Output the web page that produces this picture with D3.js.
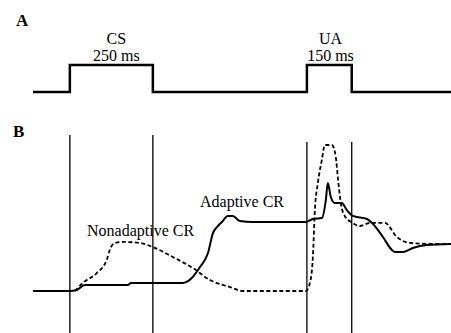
<!DOCTYPE html>
<html>
<head>
<meta charset="utf-8">
<script src="https://cdn.jsdelivr.net/npm/d3@7"></script>
<style>
  body { margin: 0; background: #fff; }
  svg text { font-family: "Liberation Serif", "Times New Roman", serif; fill: #000; }
</style>
</head>
<body>
<svg id="chart" width="451" height="333"></svg>
<script>
  // time in ms (CS onset = 0), amplitude in arbitrary units
  var stimulus = [
    { t: -111, v: 0 }, { t: 0, v: 1 }, { t: 250, v: 0 },
    { t: 714, v: 1 }, { t: 849, v: 0 }, { t: 1148, v: 0 }
  ];
  var stimLabels = [
    { name: 'CS', dur: '250 ms', t: 140 },
    { name: 'UA', dur: '150 ms', t: 785 }
  ];
  var markers = [0, 250, 714, 849];

  var adaptiveT = [-111, 0, 21, 45, 175, 184, 340, 352, 370, 392, 416, 431, 443, 458, 476, 491, 512, 551, 711, 732, 759, 771, 777, 786, 798, 819, 834, 852, 895, 913, 943, 970, 979, 1003, 1033, 1075, 1148];
  var adaptiveA = [0, 0, 0.7, 4.1, 4.1, 5.5, 5.5, 6.2, 9.6, 16.4, 26, 39.7, 43.8, 47.3, 51.4, 51.4, 47.9, 47.3, 47.3, 49.3, 50, 62.3, 74, 64.4, 60.3, 60.3, 55.5, 51.4, 49.3, 45.9, 37, 28.1, 26.7, 26.7, 29.5, 31.5, 32.2];

  var nonadaptiveT = [15, 39, 81, 111, 120, 136, 160, 211, 250, 310, 370, 422, 482, 521, 711, 723, 732, 738, 747, 759, 768, 789, 801, 807, 816, 828, 852, 873, 904, 949, 985, 1024, 1093, 1148];
  var nonadaptiveA = [0, 5.5, 12.3, 21.2, 28.1, 32.9, 33.6, 32.9, 30.1, 23.3, 15.8, 7.5, 2.7, 0, 0, 5.5, 23.3, 55.5, 74, 89.7, 100, 100, 91.8, 78.1, 60.3, 51.4, 46.6, 44.5, 46.6, 46.6, 37, 32.9, 32.2, 32.2];

  var svg = d3.select('#chart');

  var x = d3.scaleLinear().domain([-111, 1148]).range([33, 451]);
  var yStim = d3.scaleLinear().domain([0, 1]).range([92, 65]);
  var y = d3.scaleLinear().domain([0, 100]).range([291, 145]);

  // panel letters
  svg.append('text').attr('x', 16).attr('y', 26)
    .style('font-size', '17px').style('font-weight', 'bold').text('A');
  svg.append('text').attr('x', 13).attr('y', 137)
    .style('font-size', '17px').style('font-weight', 'bold').text('B');

  // panel A: stimulus trace
  var stimLine = d3.line()
    .x(function (d) { return x(d.t); })
    .y(function (d) { return yStim(d.v); })
    .curve(d3.curveStepAfter);

  svg.append('path')
    .datum(stimulus)
    .attr('d', stimLine)
    .attr('fill', 'none')
    .attr('stroke', '#000')
    .attr('stroke-width', 2.5);

  stimLabels.forEach(function (s) {
    svg.append('text').attr('x', x(s.t)).attr('y', 44)
      .style('text-anchor', 'middle').style('font-size', '16px').text(s.name);
    svg.append('text').attr('x', x(s.t)).attr('y', 61)
      .style('text-anchor', 'middle').style('font-size', '16px').text(s.dur);
  });

  // panel B: markers
  markers.forEach(function (t, i) {
    svg.append('line')
      .attr('x1', x(t)).attr('x2', x(t))
      .attr('y1', i < 2 ? 135 : 142).attr('y2', 333)
      .attr('stroke', '#000').attr('stroke-width', 1.3);
  });

  var line = d3.line()
    .x(function (d) { return x(d[0]); })
    .y(function (d) { return y(d[1]); })
    .curve(d3.curveMonotoneX);

  var nonadaptive = d3.zip(nonadaptiveT, nonadaptiveA);
  var adaptive = d3.zip(adaptiveT, adaptiveA);

  svg.append('path')
    .datum(nonadaptive)
    .attr('d', line)
    .attr('fill', 'none')
    .attr('stroke', '#000')
    .attr('stroke-width', 1.8)
    .attr('stroke-dasharray', '4,2.5');

  svg.append('path')
    .datum(adaptive)
    .attr('d', line)
    .attr('fill', 'none')
    .attr('stroke', '#000')
    .attr('stroke-width', 2);

  svg.append('text').attr('x', 87).attr('y', 236)
    .style('font-size', '16px').text('Nonadaptive CR');
  svg.append('text').attr('x', 200).attr('y', 207)
    .style('font-size', '16px').text('Adaptive CR');
</script>
</body>
</html>
